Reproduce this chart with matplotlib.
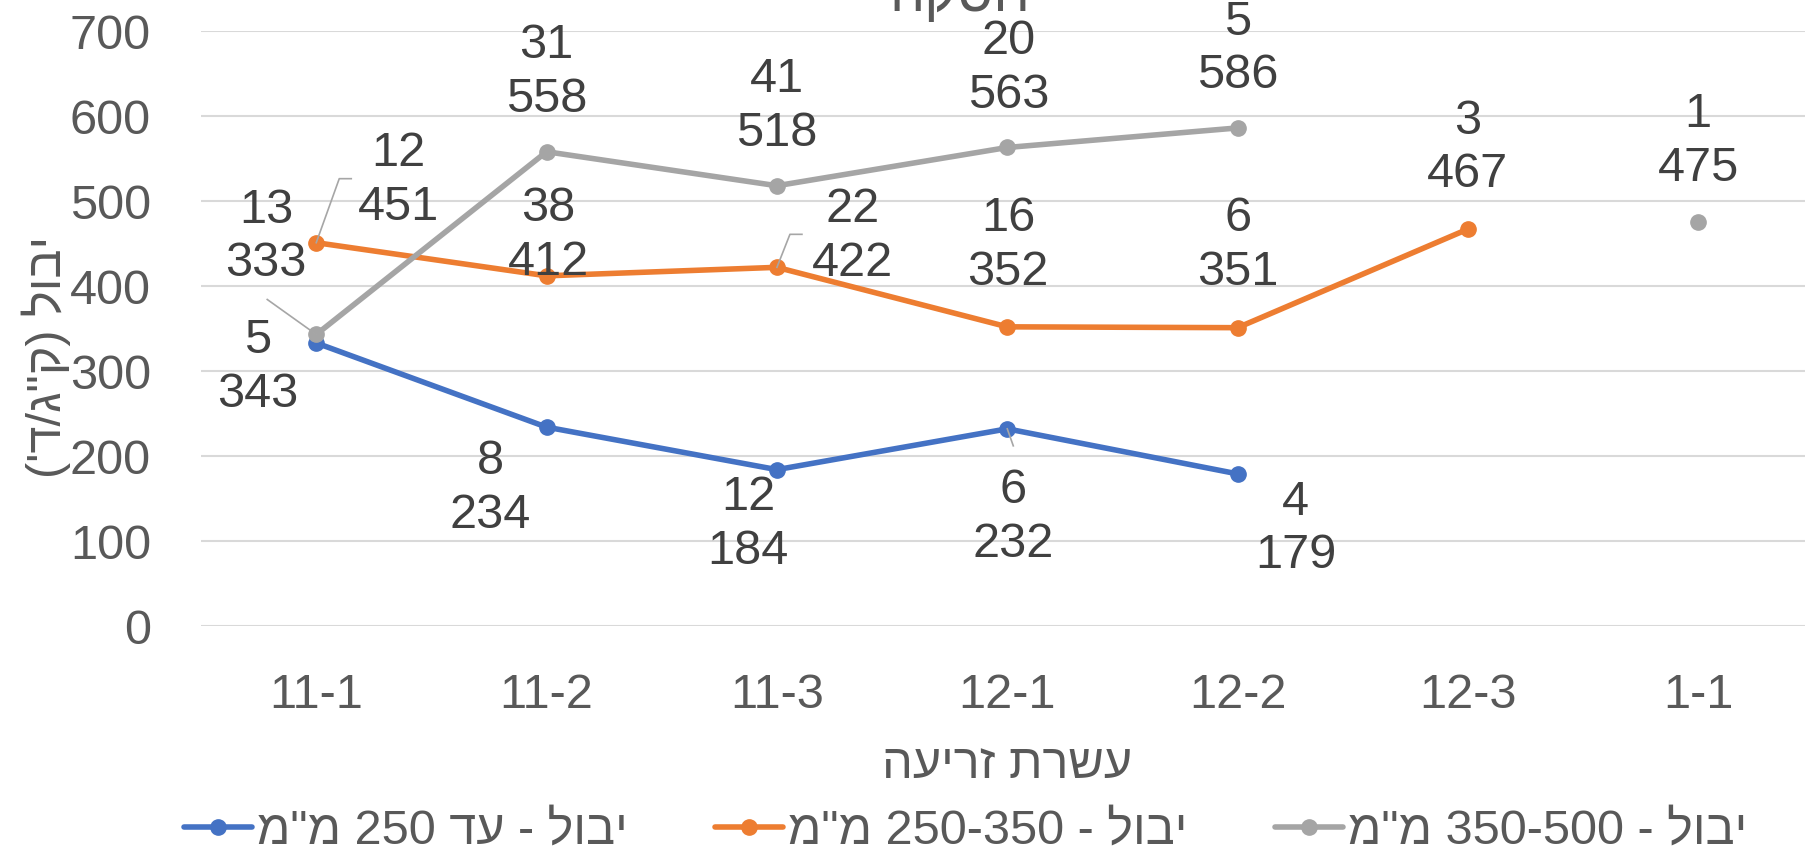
import numpy as np
import matplotlib
matplotlib.use('Agg')
import matplotlib.pyplot as plt
from matplotlib.lines import Line2D

plt.rcParams['font.family'] = ['Liberation Sans', 'DejaVu Sans']

# matplotlib has no bidi support, so Hebrew strings are stored in visual order
categories = ['11-1', '11-2', '11-3', '12-1', '12-2', '12-3', '1-1']
names = ['מ"מ 250 דע - לובי', 'מ"מ 250-350 - לובי', 'מ"מ 350-500 - לובי']

yield_low = [333, 234, 184, 232, 179, np.nan, np.nan]
yield_mid = [451, 412, 422, 352, 351, 467, np.nan]
yield_high = [343, 558, 518, 563, 586, np.nan, 475]

n_low = [13, 8, 12, 6, 4, None, None]
n_mid = [12, 38, 22, 16, 6, 3, None]
n_high = [5, 31, 41, 20, 5, None, 1]

xlabel = 'העירז תרשע'
ylabel = "('ד/ג\"ק) לובי"
title = 'הקסח'

colors = ['#4472C4', '#ED7D31', '#A5A5A5']

# label offsets (pixels, right / down) as placed in the original chart
off_low = [(-50, -106), (-56, 61), (-29, 55), (6, 89), (58, 55), None, None]
off_mid = [(82, -62), (2, -40), (76, -31), (1, -81), (0, -82), (0, -81), None]
off_high = [(-59, 33), (0, -79), (0, -79), (1, -79), (0, -79), None, (0, -81)]

# leader lines: (series, index, polyline offsets in pixels right / down)
leaders = [(1, 0, [(0, 0), (23, -64), (35, -64)]),
           (2, 0, [(0, 0), (-49, -35)]),
           (1, 2, [(0, 0), (13, -33), (25, -33)]),
           (0, 3, [(0, 0), (6, 17)])]

fig = plt.figure(figsize=(18.05, 8.57), dpi=100)
ax = fig.add_axes([0.1114, 0.2695, 0.8933, 0.6943])

x = np.arange(len(categories))
series = [yield_low, yield_mid, yield_high]
counts = [n_low, n_mid, n_high]
offsets = [off_low, off_mid, off_high]

for vals, c, name in zip(series, colors, names):
    ax.plot(x, vals, color=c, lw=4, marker='o', ms=11, label=name,
            solid_capstyle='round', zorder=3)

ax.set_xlim(-0.5, 6.5)
ax.set_ylim(0, 700)
ax.set_yticks(np.arange(0, 701, 100))
ax.set_xticks(x)
ax.set_xticklabels(categories)
ax.grid(axis='y', color='#D9D9D9', lw=1.5)
ax.set_axisbelow(True)
for s in ax.spines.values():
    s.set_visible(False)
ax.tick_params(length=0, labelsize=35, colors='#595959')
ax.tick_params(axis='y', pad=36)
ax.tick_params(axis='x', pad=34)

for vals, cnt, offs in zip(series, counts, offsets):
    for i, (v, n, o) in enumerate(zip(vals, cnt, offs)):
        if o is None or np.isnan(v):
            continue
        ax.annotate(f'{n}\n{v:.0f}', xy=(i, v), xytext=(o[0], -o[1]),
                    textcoords='offset pixels', ha='center', va='center',
                    fontsize=35, color='#404040', linespacing=1.25, zorder=5)

for si, i, pts in leaders:
    px, py = ax.transData.transform((i, series[si][i]))
    xs = [px + p[0] for p in pts]
    ys = [py - p[1] for p in pts]
    fig.add_artist(Line2D(xs, ys, transform=None, color='#A6A6A6', lw=1.2, zorder=2))

fig.text(1007 / 1805, 0.107, xlabel, ha='center', va='center', fontsize=35,
         color='#595959')
fig.text(46 / 1805, 0.583, ylabel, ha='center', va='center', fontsize=35,
         color='#595959', rotation=90)
fig.text(960 / 1805, 1 - 11 / 857, title, ha='center', va='baseline',
         fontsize=40, color='#595959')

fig.legend(loc='center', bbox_to_anchor=(0.535, 0.03), ncol=3, frameon=False,
           fontsize=35, handlelength=1.4, handletextpad=0.1, columnspacing=1.8,
           labelcolor='#595959')

plt.savefig('out.png', dpi=100)
